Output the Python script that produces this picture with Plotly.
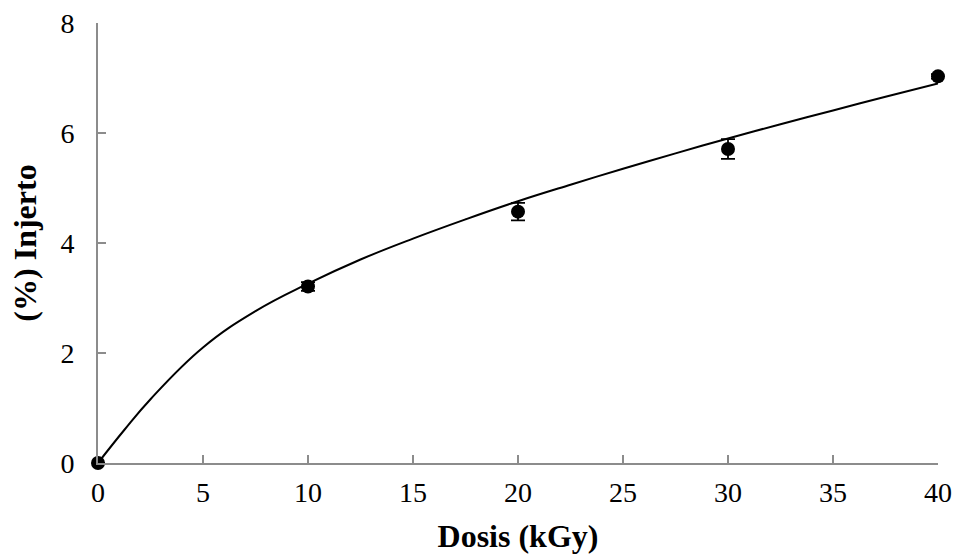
import plotly.graph_objects as go

# Measured data points
dose = [0, 10, 20, 30, 40]
graft = [0.0, 3.21, 4.57, 5.71, 7.03]
graft_err = [0.0, 0.08, 0.16, 0.18, 0.04]

# Trend curve
curve_x = [0, 1.25, 2.5, 5, 7.5, 10, 12.5, 15, 17.5, 20, 22.5, 25, 27.5, 30, 32.5, 35, 37.5, 40]
curve_y = [0, 0.6, 1.16, 2.1, 2.76, 3.26, 3.70, 4.08, 4.43, 4.76, 5.06, 5.35, 5.63, 5.90, 6.16, 6.41, 6.66, 6.90]

x_ticks = [0, 5, 10, 15, 20, 25, 30, 35, 40]
y_ticks = [0, 2, 4, 6, 8]

fig = go.Figure()
fig.add_trace(go.Scatter(
    x=curve_x, y=curve_y, mode="lines",
    line=dict(color="black", width=2, shape="spline", smoothing=1.2),
    hoverinfo="skip", showlegend=False, cliponaxis=False,
))
fig.add_trace(go.Scatter(
    x=dose, y=graft, mode="markers",
    marker=dict(color="black", size=14),
    error_y=dict(type="data", array=graft_err, color="black", thickness=1.8, width=7, visible=True),
    showlegend=False, cliponaxis=False,
))

font_family = "Liberation Serif, Times New Roman, serif"
axis_common = dict(
    showline=True, linecolor="#8c8c8c", linewidth=2,
    showgrid=False, zeroline=False, automargin=False,
    ticks="inside", ticklen=8, tickwidth=1.5, tickcolor="#8c8c8c",
    tickfont=dict(family=font_family, size=28, color="black"),
)
fig.update_layout(
    width=958, height=558,
    margin=dict(l=98, r=20, t=23, b=95),
    paper_bgcolor="white", plot_bgcolor="white",
    font=dict(family=font_family, color="black"),
    xaxis=dict(
        range=[0, 40], tickvals=x_ticks, ticktext=[str(v) for v in x_ticks],
        title=dict(text="<b>Dosis (kGy)</b>", font=dict(family=font_family, size=32), standoff=18),
        ticklabelstandoff=3,
        **axis_common,
    ),
    yaxis=dict(
        range=[0, 8], tickvals=y_ticks, ticktext=[str(v) for v in y_ticks],
        title=dict(text="<b>(%) Injerto</b>", font=dict(family=font_family, size=32), standoff=14),
        ticklabelstandoff=16,
        **axis_common,
    ),
)

fig.write_html("out.html")
